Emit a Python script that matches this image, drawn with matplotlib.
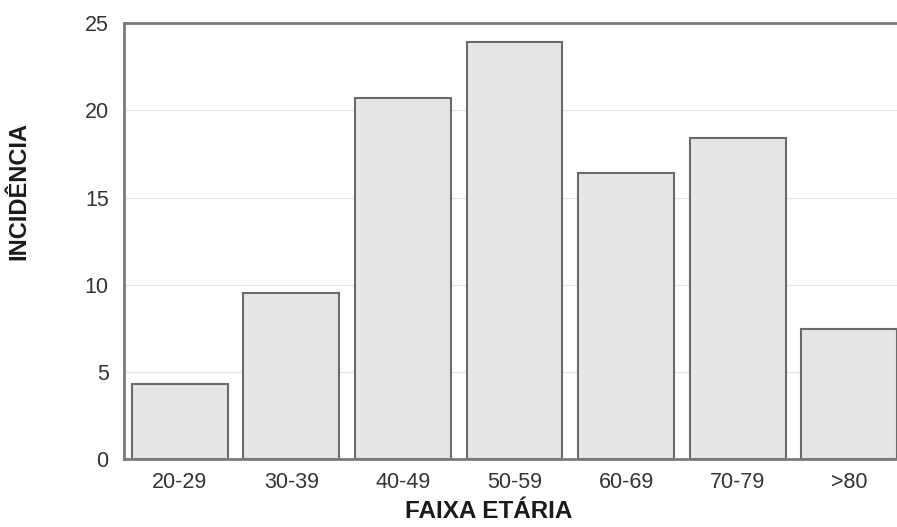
import matplotlib
matplotlib.use("Agg")
from matplotlib import pyplot as plt

# data
faixas = ["20-29", "30-39", "40-49", "50-59", "60-69", "70-79", ">80"]
incidencia = [4.3, 9.5, 20.7, 23.9, 16.4, 18.4, 7.45]
y_ticks = [0, 5, 10, 15, 20, 25]

plt.rcParams["font.family"] = ["Liberation Sans", "DejaVu Sans"]

fig = plt.figure(figsize=(8.97, 5.27), dpi=100)
ax = fig.add_axes([0.1382, 0.129, 0.862, 0.827])

x = range(len(faixas))
ax.bar(x, incidencia, width=0.86, color="#e6e6e6", edgecolor="#6a6a6a",
       linewidth=1.5, zorder=2)

ax.set_ylim(0, 25)
ax.set_xlim(-0.5, 6.43)
ax.set_yticks(y_ticks)
ax.set_xticks(list(x))
ax.set_xticklabels(faixas)
ax.grid(axis="y", color="#e4e4e4", linewidth=0.9, zorder=0)

ax.tick_params(axis="both", length=0, labelsize=15.5, labelcolor="#333333")
ax.tick_params(axis="y", pad=11)
ax.tick_params(axis="x", pad=9)

for side in ["left", "top", "bottom"]:
    ax.spines[side].set_color("#7a7a7a")
    ax.spines[side].set_linewidth(2)
ax.spines["right"].set_visible(False)

ax.set_xlabel("FAIXA ETÁRIA", fontsize=17.5, fontweight="bold", color="#1a1a1a")
ax.set_ylabel("INCIDÊNCIA", fontsize=17, fontweight="bold", color="#1a1a1a")
ax.xaxis.set_label_coords(0.472, -0.093)
ax.yaxis.set_label_coords(-0.121, 0.615)

fig.savefig("out.png", dpi=100)
